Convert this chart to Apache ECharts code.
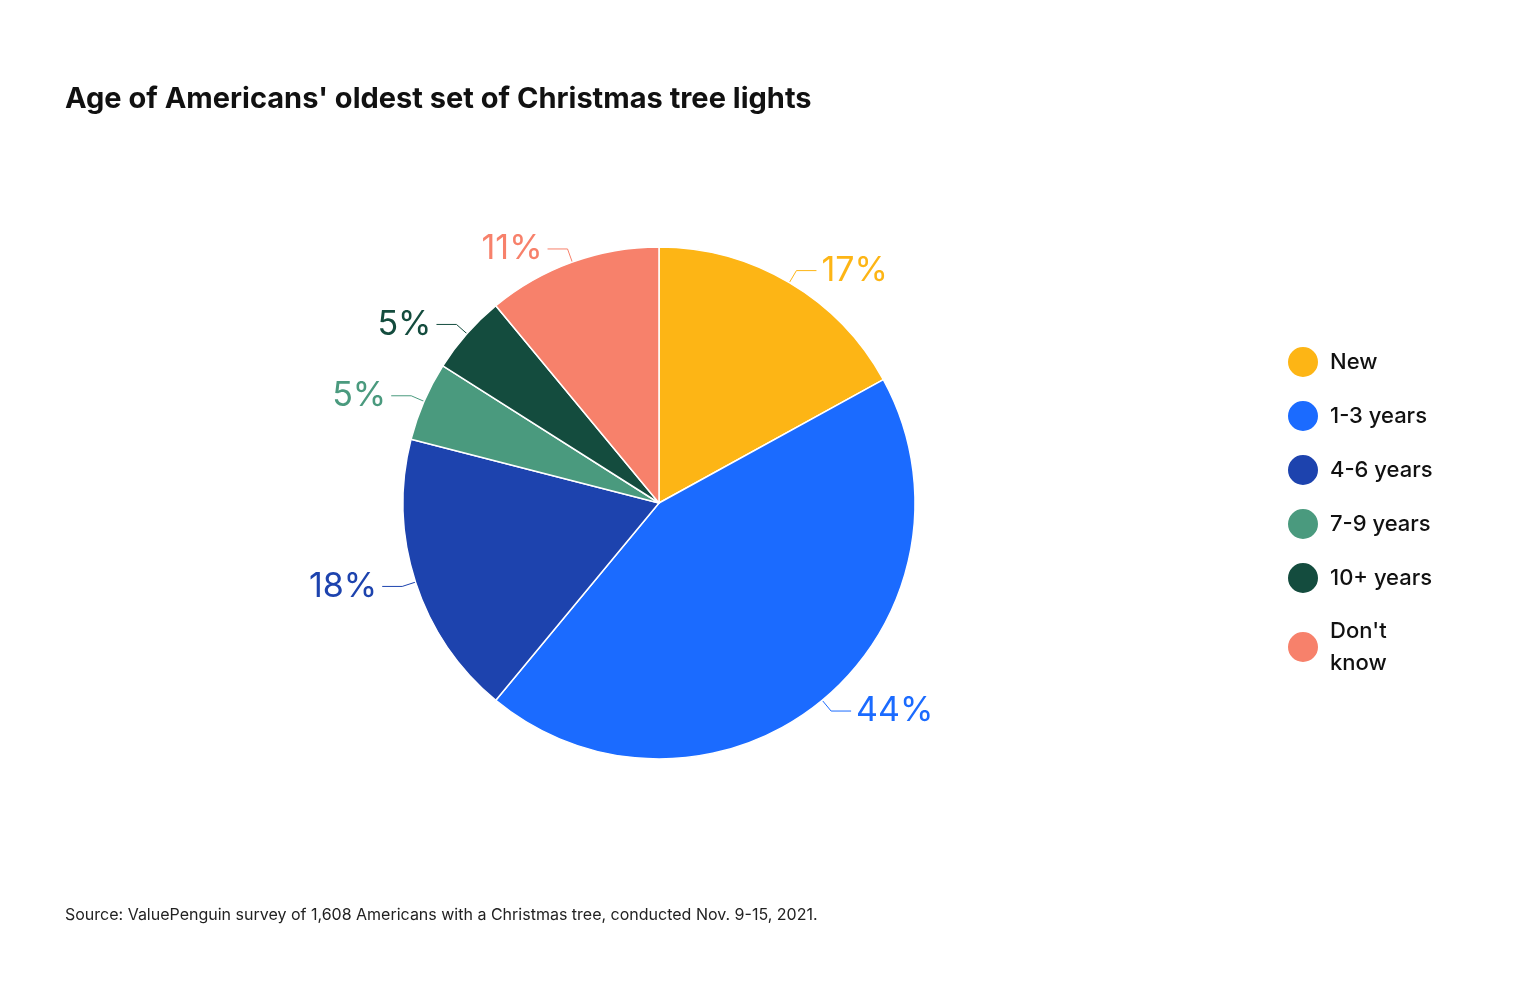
<!doctype html>
<html lang="en">
<head>
<meta charset="UTF-8">
<title>echarts</title>
<script src="https://cdn.jsdelivr.net/npm/echarts@6/dist/echarts.min.js"></script>
<style>body{margin:0;background:#fff}</style>
</head>
<body>
<div id="chart" style="width:1520px;height:990px;"></div>
<script>
const categories = ['New', '1-3 years', '4-6 years', '7-9 years', '10+ years', "Don't know"]
const values = [17, 44, 18, 5, 5, 11]
const colors = ['#FDB515', '#1B6BFF', '#1D43AE', '#4A9A7E', '#144C3E', '#F7816B']

let chart = echarts.init(document.getElementById('chart'))
let data = categories.map((c, i) => ({
  name: c,
  value: values[i],
  itemStyle: { color: colors[i] },
  label: { color: colors[i] },
  labelLine: { lineStyle: { color: colors[i] } }
}))
chart.setOption({
  title: [{
    text: "Age of Americans' oldest set of Christmas tree lights",
    left: 60, top: 80,
    textStyle: { fontFamily: 'Inter', fontSize: 29, fontWeight: 'bold', color: '#111' }
  }, {
    text: 'Source: ValuePenguin survey of 1,608 Americans with a Christmas tree, conducted Nov. 9-15, 2021.',
    left: 60, top: 902,
    textStyle: { fontFamily: 'Inter', fontSize: 16, fontWeight: 'normal', color: '#222' }
  }],
  legend: {
    orient: 'vertical',
    left: 1281, top: 340,
    icon: 'circle',
    itemWidth: 32, itemHeight: 32,
    itemGap: 20,
    formatter: n => n === "Don't know" ? "Don't\nknow" : n,
    textStyle: { fontFamily: 'Inter', fontSize: 22, fontWeight: 500, color: '#111', lineHeight: 32, padding: [0, 0, 0, 6] }
  },
  series: [{
    type: 'pie',
    center: [659, 503],
    radius: 256,
    startAngle: 90,
    clockwise: true,
    itemStyle: { borderColor: '#fff', borderWidth: 1.5 },
    label: {
      formatter: '{c}%',
      fontFamily: 'Inter', fontSize: 34
    },
    labelLine: { length: 14, length2: 20 },
    data: data
  }]
})
</script>
</body>
</html>
